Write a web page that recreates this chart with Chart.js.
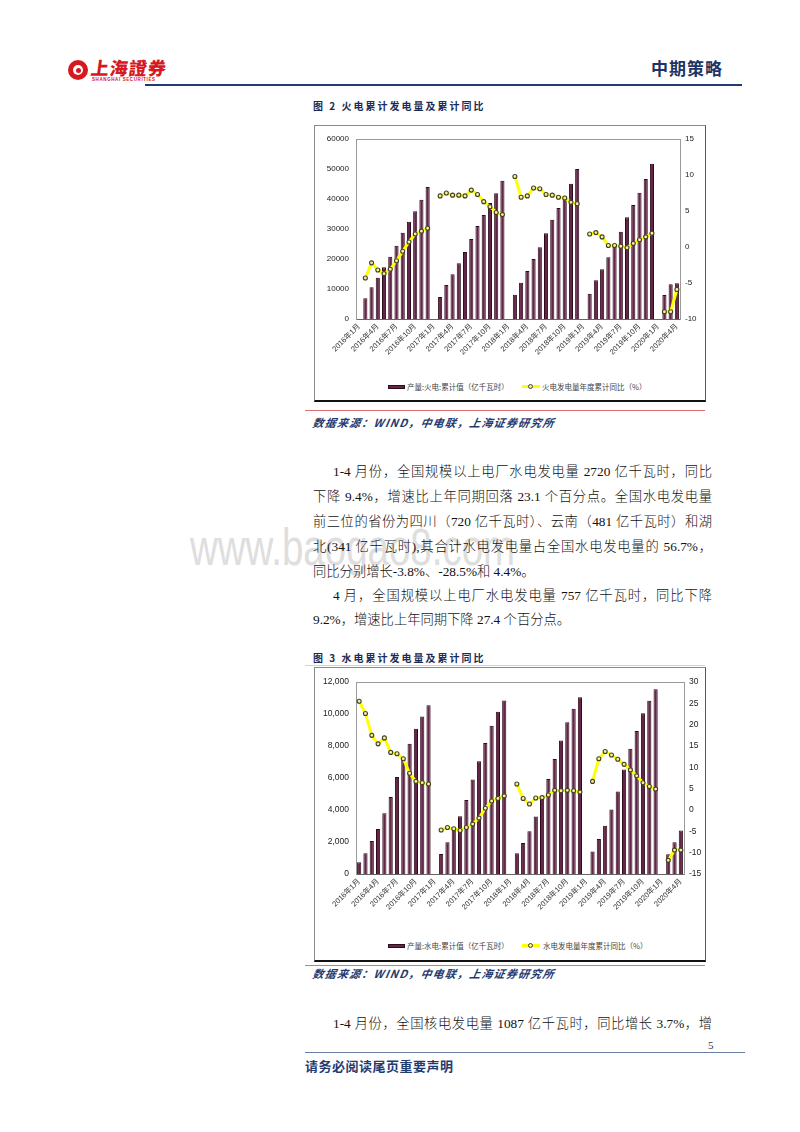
<!DOCTYPE html>
<html>
<head>
<meta charset="utf-8">
<script src="https://cdn.jsdelivr.net/npm/chart.js@4.4.0/dist/chart.umd.min.js"></script>
<style>
body{margin:0;background:#fff;}
#page{position:relative;width:800px;height:1132px;overflow:hidden;background:#fff;font-family:"Liberation Serif","Noto Sans CJK SC",serif;color:#111;}
.a{position:absolute;white-space:nowrap;}
.box{position:absolute;box-sizing:border-box;border:1px solid #8a8a8a;border-bottom:2px solid #111;border-right:1px solid #555;}
.title{font-family:"Noto Sans CJK SC",sans-serif;font-weight:bold;font-size:10px;letter-spacing:2px;color:#1c2b55;line-height:14px;}
.src{font-family:"Noto Sans CJK SC",sans-serif;font-weight:bold;font-style:italic;font-size:11px;letter-spacing:1.2px;color:#1f3b70;line-height:14px;transform:skewX(-10deg);}
.redline{position:absolute;height:1px;background:#e07070;}
.txt{font-size:13.3px;font-weight:300;line-height:16px;width:399px;text-align:justify;text-align-last:justify;}
.txt.last{text-align-last:left;}
.leg{font-family:"Noto Sans CJK SC",sans-serif;font-size:7.5px;color:#444;line-height:10px;}
.legbar{position:absolute;width:17px;height:4px;background:#65244a;border:1px solid #2e0c1a;box-sizing:border-box;}
.legline{position:absolute;width:18px;height:3px;background:#ffff00;}
.legdot{position:absolute;width:5px;height:5px;border-radius:50%;background:#f4f0a0;border:1px solid #45452a;box-sizing:border-box;}
canvas{position:absolute;}
</style>
</head>
<body>
<div id="page">
  <!-- header -->
  <div class="a" style="left:68px;top:60px;width:20px;height:20px;border-radius:50%;background:#d6181f;"></div>
  <div class="a" style="left:73px;top:65px;width:10px;height:10px;border-radius:50%;background:#fff;"></div>
  <div class="a" style="left:76px;top:68px;width:5px;height:5px;border-radius:50%;background:#d6181f;"></div>
  <div class="a" style="left:91px;top:57px;font-family:'Noto Sans CJK TC',sans-serif;font-weight:900;font-size:18px;line-height:20px;color:#d6181f;letter-spacing:1px;transform:skewX(-8deg);">上海證券</div>
  <div class="a" style="left:92px;top:77px;font-family:'Liberation Sans',sans-serif;font-weight:bold;font-size:4.5px;line-height:6px;color:#d6181f;letter-spacing:0.6px;">SHANGHAI SECURITIES</div>
  <div class="a" style="left:651px;top:58px;font-family:'Noto Sans CJK SC',sans-serif;font-weight:bold;font-size:17px;line-height:20px;color:#1c3466;letter-spacing:1px;">中期策略</div>
  <div class="a" style="left:145px;top:84px;width:597px;height:2px;background:#1f3b70;"></div>

  <!-- watermark -->
  <div class="a" style="left:190px;top:512px;font-family:'Liberation Sans',sans-serif;font-size:52px;line-height:70px;color:#dedede;transform:scaleX(0.74);transform-origin:left top;">www.baogao8.com</div>

  <!-- figure 2 -->
  <div class="a title" style="left:313px;top:99px;">图 2 火电累计发电量及累计同比</div>
  <div class="box" style="left:314px;top:125px;width:392px;height:277px;"></div>
  <canvas id="c1" width="391" height="254" style="left:314px;top:126px;"></canvas>
  <div class="legbar" style="left:388px;top:385px;"></div>
  <div class="a leg" style="left:407px;top:382px;">产量:火电:累计值（亿千瓦时）</div>
  <div class="legline" style="left:522px;top:385px;"></div>
  <div class="legdot" style="left:528px;top:384px;"></div>
  <div class="a leg" style="left:542px;top:382px;">火电发电量年度累计同比（%）</div>
  <div class="redline" style="left:305px;top:410px;width:400px;"></div>
  <div class="a src" style="left:313px;top:415px;">数据来源：WIND，中电联，上海证券研究所</div>

  <!-- body text -->
  <div class="a txt" style="left:333px;top:464px;width:379px;">1-4 月份，全国规模以上电厂水电发电量 2720 亿千瓦时，同比</div>
  <div class="a txt" style="left:313px;top:489px;">下降 9.4%，增速比上年同期回落 23.1 个百分点。全国水电发电量</div>
  <div class="a txt" style="left:313px;top:514px;">前三位的省份为四川（720 亿千瓦时）、云南（481 亿千瓦时）和湖</div>
  <div class="a txt" style="left:313px;top:539px;">北(341 亿千瓦时),其合计水电发电量占全国水电发电量的 56.7%，</div>
  <div class="a txt last" style="left:313px;top:564px;">同比分别增长-3.8%、-28.5%和 4.4%。</div>
  <div class="a txt" style="left:333px;top:588px;width:379px;">4 月，全国规模以上电厂水电发电量 757 亿千瓦时，同比下降</div>
  <div class="a txt last" style="left:313px;top:612px;">9.2%，增速比上年同期下降 27.4 个百分点。</div>

  <!-- figure 3 -->
  <div class="a title" style="left:313px;top:651px;">图 3 水电累计发电量及累计同比</div>
  <div class="redline" style="left:305px;top:665px;width:400px;background:#f0c4c4;"></div>
  <div class="box" style="left:314px;top:667px;width:392px;height:295px;"></div>
  <canvas id="c2" width="391" height="260" style="left:314px;top:668px;"></canvas>
  <div class="legbar" style="left:388px;top:944px;"></div>
  <div class="a leg" style="left:407px;top:941px;">产量:水电:累计值（亿千瓦时）</div>
  <div class="legline" style="left:522px;top:944px;"></div>
  <div class="legdot" style="left:528px;top:943px;"></div>
  <div class="a leg" style="left:543px;top:941px;">水电发电量年度累计同比（%）</div>
  <div class="redline" style="left:305px;top:965px;width:400px;"></div>
  <div class="a src" style="left:313px;top:966px;">数据来源：WIND，中电联，上海证券研究所</div>

  <div class="a txt" style="left:333px;top:1016px;width:379px;">1-4 月份，全国核电发电量 1087 亿千瓦时，同比增长 3.7%，增</div>

  <!-- footer -->
  <div class="a" style="left:708px;top:1039px;font-size:11px;line-height:12px;color:#333;">5</div>
  <div class="a" style="left:305px;top:1052px;width:440px;height:1px;background:#6a7fa8;"></div>
  <div class="a" style="left:305px;top:1058px;font-family:'Noto Sans CJK SC',sans-serif;font-weight:bold;font-size:13px;line-height:16px;color:#1f3b70;letter-spacing:0.5px;">请务必阅读尾页重要声明</div>
</div>

<script>
// months 2016-01 .. 2020-04
const months = [
  "2016年1月","2016年2月","2016年3月","2016年4月","2016年5月","2016年6月","2016年7月","2016年8月","2016年9月","2016年10月","2016年11月","2016年12月",
  "2017年1月","2017年2月","2017年3月","2017年4月","2017年5月","2017年6月","2017年7月","2017年8月","2017年9月","2017年10月","2017年11月","2017年12月",
  "2018年1月","2018年2月","2018年3月","2018年4月","2018年5月","2018年6月","2018年7月","2018年8月","2018年9月","2018年10月","2018年11月","2018年12月",
  "2019年1月","2019年2月","2019年3月","2019年4月","2019年5月","2019年6月","2019年7月","2019年8月","2019年9月","2019年10月","2019年11月","2019年12月",
  "2020年1月","2020年2月","2020年3月","2020年4月"
];

// 火电 累计值 (亿千瓦时)
const thermalCum = [
  null, 6900, 10550, 13780, 17220, 20780, 24440, 28780, 32440, 35890, 39780, 44000,
  null, 7330, 11330, 14890, 18560, 22330, 26670, 31000, 34670, 38670, 41890, 46110,
  null, 8110, 12110, 16000, 20000, 23890, 28560, 33110, 37000, 41110, 45110, 50000,
  null, 8440, 12890, 16560, 20560, 25000, 29110, 33890, 38000, 42110, 46670, 51780,
  null, 8000, 11560, 11890
];
// 火电 年度累计同比 (%)
const thermalYoy = [
  null, -4.3, -2.2, -3.2, -3.7, -3.1, -1.9, -0.6, 0.7, 1.8, 2.2, 2.6,
  null, 7.1, 7.5, 7.2, 7.2, 7.1, 7.9, 7.3, 6.3, 5.6, 4.8, 4.5,
  null, 9.8, 6.9, 7.1, 8.2, 8.1, 7.3, 7.2, 6.9, 6.8, 6.2, 6.0,
  null, 1.8, 2.0, 1.4, 0.2, 0.2, 0.1, -0.1, 0.5, 1.0, 1.4, 1.9,
  null, -9.0, -9.0, -5.9
];

// 水电 累计值 (亿千瓦时)
const hydroCum = [
  730, 1290, 2070, 2820, 3800, 4820, 6070, 7140, 8140, 9080, 9850, 10540,
  null, 1250, 1980, 2820, 3610, 4630, 5910, 7050, 8180, 9270, 10140, 10850,
  null, 1290, 1940, 2670, 3590, 4700, 5930, 7180, 8350, 9480, 10330, 11040,
  null, 1400, 2190, 3010, 4030, 5160, 6530, 7830, 8930, 10040, 10830, 11540,
  null, 1230, 1980, 2720
];
// 水电 年度累计同比 (%)
const hydroYoy = [
  25.5, 22.6, 17.5, 15.5, 16.9, 13.5, 13.2, 12.0, 8.6, 6.7, 6.4, 6.1,
  null, -4.7, -4.1, -4.4, -4.8, -4.1, -3.3, -1.9, 0.4, 2.1, 2.7, 3.3,
  null, 6.1, 2.7, 1.4, 2.8, 2.9, 3.5, 4.6, 4.5, 4.6, 4.5, 4.2,
  null, 6.7, 12.0, 13.7, 12.9, 11.9, 10.7, 9.4, 8.0, 6.4, 5.5, 4.9,
  null, -11.8, -9.4, -9.4
];

Chart.defaults.font.family = '"Liberation Sans","Noto Sans CJK SC",sans-serif';

const frameTop = {
  id: 'frameTop',
  beforeDatasetsDraw(chart) {
    const a = chart.chartArea, ctx = chart.ctx;
    ctx.save();
    ctx.strokeStyle = '#9a9a9a';
    ctx.lineWidth = 1;
    ctx.beginPath();
    ctx.moveTo(a.left, a.top + 0.5);
    ctx.lineTo(a.right, a.top + 0.5);
    ctx.stroke();
    ctx.restore();
  }
};

function makeChart(id, bars, line, o) {
  return new Chart(document.getElementById(id), {
    type: 'bar',
    data: {
      labels: months,
      datasets: [
        {
          type: 'line', data: line, yAxisID: 'y1', order: 0,
          borderColor: '#ffff00', borderWidth: 3, tension: 0, spanGaps: false,
          pointRadius: 2, pointBorderWidth: 1.1,
          pointBorderColor: '#3f3f28', pointBackgroundColor: '#f4f0a0'
        },
        {
          type: 'bar', data: bars, yAxisID: 'y', order: 1,
          backgroundColor: '#65244a', borderColor: '#2e0c1a', borderWidth: 1,
          barPercentage: 0.66, categoryPercentage: 1
        }
      ]
    },
    options: {
      responsive: false,
      animation: false,
      layout: { padding: { top: o.padTop, left: 0, right: 0, bottom: 0 } },
      plugins: { legend: { display: false }, tooltip: { enabled: false } },
      scales: {
        x: {
          grid: { display: false, drawTicks: false },
          border: { color: '#666' },
          ticks: {
            autoSkip: false, minRotation: 45, maxRotation: 45, padding: 3,
            font: { size: 7.5 }, color: '#333',
            callback: (v, i) => i % 3 === 0 ? months[i] : ''
          },
          afterFit: s => { s.height = o.xHeight; }
        },
        y: {
          position: 'left', min: 0, max: o.yMax,
          grid: { display: false, drawTicks: false },
          border: { color: '#9a9a9a' },
          ticks: { stepSize: o.yStep, padding: 7, font: { size: o.tickSize }, color: '#222', callback: o.yFmt },
          afterFit: s => { s.width = 42; }
        },
        y1: {
          position: 'right', min: o.rMin, max: o.rMax,
          grid: { display: false, drawTicks: false },
          border: { color: '#9a9a9a' },
          ticks: { stepSize: 5, padding: 5, font: { size: o.tickSize }, color: '#222' },
          afterFit: s => { s.width = o.rightW; }
        }
      }
    },
    plugins: [frameTop]
  });
}

makeChart('c1', thermalCum, thermalYoy, {
  padTop: 13, xHeight: 61, yMax: 60000, yStep: 10000, rMin: -10, rMax: 15,
  rightW: 25, tickSize: 8, yFmt: v => String(v)
});
makeChart('c2', hydroCum, hydroYoy, {
  padTop: 14, xHeight: 54, yMax: 12000, yStep: 2000, rMin: -15, rMax: 30,
  rightW: 21, tickSize: 8.5, yFmt: v => v.toLocaleString('en-US')
});
</script>
</body>
</html>
